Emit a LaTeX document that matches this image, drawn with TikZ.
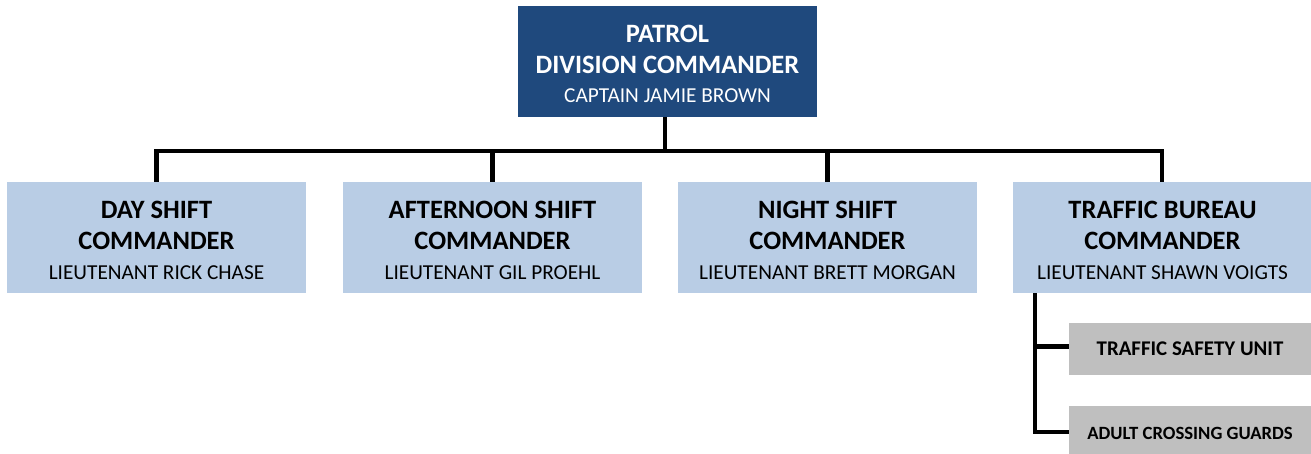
\documentclass[tikz,border=0pt]{standalone}
\usepackage{fontspec}
\setmainfont{Carlito}
\definecolor{navy}{HTML}{1F497D}
\definecolor{paleblue}{HTML}{B9CDE5}
\definecolor{unitgray}{HTML}{BFBFBF}
\tikzset{
  chief/.style={fill=navy, text=white, minimum width=299pt, minimum height=111pt,
    inner sep=0pt, align=center, font=\fontsize{26.5}{31}\selectfont},
  shiftbox/.style={fill=paleblue, text=black, minimum width=299pt, minimum height=111pt,
    inner sep=0pt, align=center, font=\fontsize{26.5}{31.5}\selectfont},
  unitbox/.style={fill=unitgray, text=black, minimum width=242pt,
    inner sep=0pt, align=center},
  link/.style={draw=black, line width=4.8pt}
}
% first line carries a tall strut so the block sits a little low in its box
\newcommand{\headline}[1]{\rule{0pt}{23pt}\textbf{#1}}
\newcommand{\subline}[1]{\textbf{#1}}
\newcommand{\rankline}[1]{{\fontsize{21.3}{29}\selectfont #1}}
\begin{document}
\begin{tikzpicture}[x=1pt,y=-1pt]
\useasboundingbox (0,0) rectangle (1311,454);

% commander
\node[chief] (pdc) at (667.5,61.5)
  {\headline{PATROL}\\\subline{DIVISION COMMANDER}\\[-2pt]\rankline{CAPTAIN JAMIE BROWN}};

% shift commanders
\node[shiftbox] (day) at (156.5,237.5)
  {\headline{DAY SHIFT}\\\subline{COMMANDER}\\[-2pt]\rankline{LIEUTENANT RICK CHASE}};
\node[shiftbox] (aft) at (492.5,237.5)
  {\headline{AFTERNOON SHIFT}\\\subline{COMMANDER}\\[-2pt]\rankline{LIEUTENANT GIL PROEHL}};
\node[shiftbox] (ngt) at (827.5,237.5)
  {\headline{NIGHT SHIFT}\\\subline{COMMANDER}\\[-2pt]\rankline{LIEUTENANT BRETT MORGAN}};
\node[shiftbox] (trf) at (1162.5,237.5)
  {\headline{TRAFFIC BUREAU}\\\subline{COMMANDER}\\[-2pt]\rankline{LIEUTENANT SHAWN VOIGTS}};

% traffic units
\node[unitbox, minimum height=52pt] (tsu) at (1190,349)
  {\fontsize{20.9}{24}\selectfont\bfseries TRAFFIC SAFETY UNIT};
\node[unitbox, minimum height=54pt] (acg) at (1190,433)
  {\fontsize{18.7}{22}\selectfont\bfseries ADULT CROSSING GUARDS};

% connectors
\coordinate (stem) at ([xshift=-2.5pt]pdc.south);
\coordinate (busL) at (156.7,151);
\coordinate (busR) at (1162,151);
\coordinate (trunk) at (1035,293);
\draw[link] (stem) -- (stem |- busL);
\draw[link, line cap=rect] (busL) -- (busR);
\draw[link] (busL) -- (busL |- day.north);
\draw[link] (aft.north |- busL) -- (aft.north);
\draw[link] (ngt.north |- busL) -- (ngt.north);
\draw[link] (busR) -- (busR |- trf.north);
\draw[link] (trunk) |- ([yshift=2.5pt]tsu.west);
\draw[link] (trunk) |- ([yshift=1pt]acg.west);
\end{tikzpicture}
\end{document}
